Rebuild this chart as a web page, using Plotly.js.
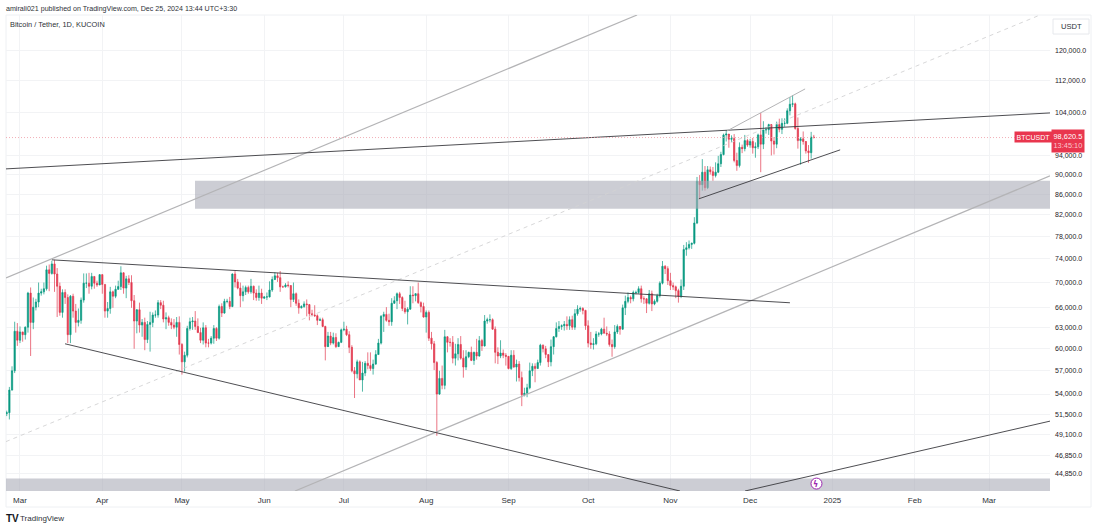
<!DOCTYPE html>
<html><head><meta charset="utf-8">
<script src="https://cdn.plot.ly/plotly-3.0.1.min.js"></script>
<style>html,body{margin:0;padding:0;background:#fff;overflow:hidden}#c{width:1097px;height:529px}</style>
</head><body><div id="c"></div>
<script>
const firstDay = '2024-02-25';
const opens = [51600,51700,54500,57000,62500,
61200,62400,62000,63100,68300,63800,66100,66900,68300,68500,69000,72100,71500,73100,71400,69400,65300,68400,67600,62000,67800,65500,63800,64100,67200,69900,69900,69400,71000,69900,69600,
71300,69700,65500,65900,68500,67800,68900,69350,71600,69100,70600,70000,67100,64000,65700,63400,63800,61300,63500,63800,64900,64900,66800,66400,64300,64500,63800,63400,63100,63800,
60600,58200,59100,62900,63900,64000,63200,62300,61200,63000,60800,60800,61500,62900,61500,66200,65200,67000,67000,66200,71400,70100,69100,67900,68500,69200,68500,69400,68300,67600,68300,
67500,67700,67700,68800,70500,71100,70800,69300,69300,69600,69500,67300,68200,66700,66000,66200,66600,66500,65100,64900,64800,64100,64200,63200,60300,61800,60800,61600,60300,60900,
62700,62800,62000,60200,57000,56600,58200,55800,56700,58000,57700,57300,57900,59200,60800,64700,65000,64100,63900,66700,67100,68200,67600,65900,65400,65800,68000,67900,68200,66800,66200,
64600,65300,61500,60700,58100,54000,56000,55100,61700,60900,60900,58700,59300,60600,58700,57500,58900,59500,58400,59500,59000,61150,60400,64000,64200,64200,62800,59500,59000,59400,59100,
58950,57300,59100,57500,57900,56100,53900,54100,54800,57000,57600,57300,58100,60500,60000,59200,58200,60300,61700,62900,63200,63300,63500,63300,64200,63100,65100,65800,65900,65600,
63300,60800,60600,60700,62100,62100,62800,62200,62100,60600,60300,62400,63200,62800,66000,67000,67600,67400,68400,68400,69000,67400,67400,66700,68200,66600,67000,67900,69900,72700,72300,
70300,69500,69300,68700,67800,69400,75600,75900,76500,76700,80400,88600,87900,90500,87300,91000,90600,89800,90500,92300,94300,98700,98900,97700,97900,93000,91900,95900,95600,97400,
96400,97200,95800,96000,98700,96600,99900,99900,101100,97300,96600,101100,100000,101400,101400,104400,106000,106100,100200,97400,97800,97200,95100,94700,98200];
const highs = [51950,54900,57600,63900,63700,
63200,62400,63200,68500,69200,67600,67400,70000,69000,70000,72800,73000,73650,73800,72400,70000,68900,68900,68100,68000,68200,66600,65900,67600,71500,71500,71600,71600,71000,70300,71400,
71400,69700,66900,69300,68700,69500,70300,72700,71700,71100,71200,71200,68000,65800,66800,64300,64500,64000,65400,65300,65600,67200,67200,67100,65300,64800,64400,64300,64600,64700,
60800,59600,63300,64500,64600,65500,64400,63000,63800,63400,61400,61800,63400,63100,66500,66700,67400,67400,67700,71500,71900,70600,70000,69500,69500,69500,70600,69500,68900,69500,69000,
67800,68400,70200,71000,71700,71600,71900,69500,69900,70200,69600,70000,68400,67300,66400,67000,67300,65700,65700,66400,65000,64500,64500,63300,62400,62400,62300,62200,61000,62900,
63900,63300,62500,60500,57500,58500,58400,58200,58300,59500,59500,58500,59800,61400,64900,65400,66100,65100,67500,67800,68400,68500,67800,67100,66100,69400,69400,68300,70000,67000,66800,
65600,65600,62400,61100,58300,57000,57700,62700,61800,61500,61800,60700,61500,61800,59800,59800,59600,60300,59600,61400,61800,61400,64900,64500,65000,64400,63200,60200,61200,59900,59400,
59000,59800,59800,58500,58300,56900,54800,55300,58100,58000,58000,58500,60700,60600,60400,59200,61300,61800,63800,64000,63500,64000,64700,64700,64800,65800,66400,66200,66100,65700,
64100,62400,61500,62500,62400,63000,64500,63200,62500,61300,63400,63500,63100,66500,67900,68400,67900,68700,68700,69400,69500,67800,67500,68800,68700,67300,68200,70200,73600,72900,72700,
71600,70000,69500,69000,70500,76400,76900,77200,76800,81500,89500,89900,93300,91800,91800,91700,91600,92600,94000,94900,99000,99800,98700,98600,98900,94700,97000,96500,98700,97800,
97800,98000,97000,99000,103900,101900,100500,101300,101200,98200,101800,102500,102600,102600,105000,107800,108300,106400,102800,98200,99500,97300,96400,99400,98700];
const lows = [51300,50900,54450,56700,60400,
60800,61000,61300,62300,59000,62800,65600,66100,67900,68100,68700,68600,71300,68500,64600,64800,64500,66600,60800,60800,64500,62300,63200,63600,66800,69100,68200,68900,69000,69300,69600,
68200,64500,64500,65100,66000,67500,69000,68800,68200,67500,69600,66000,60000,62200,62300,61700,59800,60800,59600,63100,64500,64500,65800,63800,62800,63300,62800,62800,61700,59200,
56500,56900,58800,62600,62700,62700,62900,60800,60600,60200,60200,60600,60700,61100,61300,64600,65100,66700,65800,66100,69200,68900,66100,67000,68000,68200,68200,67200,67100,67100,66600,
67400,67200,67600,68500,70400,70100,68500,69200,69200,69200,66100,66900,66300,65100,65900,66000,64700,64100,64700,64600,63400,64000,63100,58400,60700,60500,60600,60100,60300,60800,
62500,61800,59400,56800,53500,56000,55800,54300,56300,57200,57000,56500,57800,59200,60600,62400,63900,63300,63300,66600,65800,66600,65500,65100,63500,65700,66700,67000,66600,65300,64500,
62300,61100,59900,57100,49000,53900,54600,54600,59500,60300,58000,57700,58400,58500,56100,57100,58700,58300,57800,58500,58900,59700,60300,63600,63800,62700,58000,57900,58700,58700,57700,
57200,57100,57400,55600,55600,52500,53700,53600,54600,56300,55500,57300,57700,59500,58700,57500,57600,59200,61600,62400,62700,62600,62700,62700,62700,62700,64800,65400,65000,62700,
60200,60000,59900,60500,61700,61900,62200,61800,60300,58900,60000,62100,62000,62700,64900,66700,66700,67000,68100,68200,66800,66600,65200,66500,65500,66400,66800,67600,69700,71400,69600,
68800,68800,67500,66800,67500,68800,74500,75600,75700,76500,80200,85100,86700,86700,87000,90000,88700,89400,90300,91600,94100,97200,95800,97100,92600,90800,91500,94600,95000,96000,
95800,94500,93600,95500,90500,95500,99000,98700,94100,94300,95700,99300,98900,100600,101200,103300,105300,99900,95600,92100,96500,94500,92500,93400,97900];
const closes = [51700,54500,57000,62500,61200,
62400,62000,63100,68300,63800,66100,66900,68300,68500,69000,72100,71500,73100,71400,69400,65300,68400,67600,62000,67800,65500,63800,64100,67200,69900,69900,69400,71000,69900,69600,71300,
69700,65500,65900,68500,67800,68900,69350,71600,69100,70600,70000,67100,64000,65700,63400,63800,61300,63500,63800,64900,64900,66800,66400,64300,64500,63800,63400,63100,63800,60600,
58200,59100,62900,63900,64000,63200,62300,61200,63000,60800,60800,61500,62900,61500,66200,65200,67000,67000,66200,71400,70100,69100,67900,68500,69200,68500,69400,68300,67600,68300,67500,
67700,67700,68800,70500,71100,70800,69300,69300,69600,69500,67300,68200,66700,66000,66200,66600,66500,65100,64900,64800,64100,64200,63200,60300,61800,60800,61600,60300,60900,62700,
62800,62000,60200,57000,56600,58200,55800,56700,58000,57700,57300,57900,59200,60800,64700,65000,64100,63900,66700,67100,68200,67600,65900,65400,65800,68000,67900,68200,66800,66200,64600,
65300,61500,60700,58100,54000,56000,55100,61700,60900,60900,58700,59300,60600,58700,57500,58900,59500,58400,59500,59000,61150,60400,64000,64200,64200,62800,59500,59000,59400,59100,58950,
57300,59100,57500,57900,56100,53900,54100,54800,57000,57600,57300,58100,60500,60000,59200,58200,60300,61700,62900,63200,63300,63500,63300,64200,63100,65100,65800,65900,65600,63300,
60800,60600,60700,62100,62100,62800,62200,62100,60600,60300,62400,63200,62800,66000,67000,67600,67400,68400,68400,69000,67400,67400,66700,68200,66600,67000,67900,69900,72700,72300,70300,
69500,69300,68700,67800,69400,75600,75900,76500,76700,80400,88600,87900,90500,87300,91000,90600,89800,90500,92300,94300,98700,98900,97700,97900,93000,91900,95900,95600,97400,96400,
97200,95800,96000,98700,96600,99900,99900,101100,97300,96600,101100,100000,101400,101400,104400,106000,106100,100200,97400,97800,97200,95100,94700,98200,98100];

const xStart = '2024-02-24 17:30', xEnd = '2025-03-23 23:00';
const priceTop = 130480, priceBottom = 43090;
const lastPrice = 98100;

const priceTicks = [120000,112000,104000,94000,90000,86000,82000,78000,74000,70000,66000,63000,60000,57000,54000,51500,49100,46850,44850];
const priceLabels = ['120,000.0','112,000.0','104,000.0','94,000.0','90,000.0','86,000.0','82,000.0','78,000.0','74,000.0','70,000.0','66,000.0','63,000.0','60,000.0','57,000.0','54,000.0','51,500.0','49,100.0','46,850.0','44,850.0'];
const dateTicks = ['2024-03-01','2024-04-01','2024-05-01','2024-06-01','2024-07-01','2024-08-01','2024-09-01','2024-10-01','2024-11-01','2024-12-01','2025-01-01','2025-02-01','2025-03-01'];
const dateLabels = ['Mar','Apr','May','Jun','Jul','Aug','Sep','Oct','Nov','Dec','2025','Feb','Mar'];

const upperChannel = {x:[xStart,'2024-10-19 10:00'], y:[70770,priceTop]};
const midChannel   = {x:[xStart,'2025-03-20 05:00'], y:[48340,priceTop]};
const lowerChannel = {x:['2024-06-12 14:00',xEnd], y:[priceBottom,89720]};
const longResist   = {x:[xStart,xEnd], y:[91200,103880]};
const wedgeTop     = {x:['2024-03-13 01:00','2024-12-16 00:00'], y:[73800,66780]};
const wedgeBottom  = {x:['2024-03-17 23:00','2024-11-04 14:00'], y:[60700,priceBottom]};
const lowRight     = {x:['2024-11-29 02:00',xEnd], y:[priceBottom,50700]};
const risingLow    = {x:['2024-11-11 17:00','2025-01-03 22:00'], y:[85060,95330]};
const risingHigh   = {x:['2024-11-22 07:00','2024-12-21 17:00'], y:[99620,109850]};
const bandUpper    = {x0:'2024-05-05 22:00', x1:xEnd, y0:83100, y1:88690};
const bandLower    = {x0:xStart, x1:xEnd, y0:priceBottom, y1:44350};

const dates = closes.map((_, i) => {
  const d = new Date(firstDay + 'T00:00:00Z');
  d.setUTCDate(d.getUTCDate() + i);
  return d.toISOString().slice(0, 10);
});

const band = b => ({type:'scatter',mode:'lines',x:[b.x0,b.x1,b.x1,b.x0,b.x0],y:[b.y0,b.y0,b.y1,b.y1,b.y0],
  fill:'toself',fillcolor:'rgba(170,172,184,0.6)',line:{width:0},hoverinfo:'skip',showlegend:false});
const seg = (s,color,width,dash) => ({type:'scatter',mode:'lines',x:s.x,y:s.y,
  line:{color,width,dash:dash||'solid'},hoverinfo:'skip',showlegend:false});

const traces = [
  band(bandUpper), band(bandLower),
  {type:'candlestick',x:dates,open:opens,high:highs,low:lows,close:closes,whiskerwidth:0,
   increasing:{line:{color:'#089981',width:0.7},fillcolor:'#089981'},
   decreasing:{line:{color:'#e2394f',width:0.7},fillcolor:'#e2394f'},
   hoverinfo:'skip',showlegend:false},
  seg(upperChannel,'#b4b4b6',1.2),
  seg(midChannel,'#d2d2d4',0.9,'4px,4px'),
  seg(lowerChannel,'#b4b4b6',1.2),
  seg(longResist,'#3a3a3e',0.9),
  seg(wedgeTop,'#3a3a3e',0.9),
  seg(wedgeBottom,'#3a3a3e',0.9),
  seg(lowRight,'#3a3a3e',0.9),
  seg(risingLow,'#3a3a3e',0.9),
  seg(risingHigh,'#b4b4b6',1),
  {type:'scatter',mode:'lines',x:[xStart,xEnd],y:[lastPrice,lastPrice],line:{color:'#ee9aa6',width:0.8,dash:'1px,2px'},hoverinfo:'skip',showlegend:false},
  {type:'scatter',mode:'markers',x:['2024-12-26'],y:[43840],cliponaxis:false,marker:{size:11,color:'#ffffff',line:{color:'#9c27b0',width:1}},hoverinfo:'skip',showlegend:false}
];

const txtFont = 'Liberation Sans, Arial, sans-serif';
const px = (x,y,text,opt) => Object.assign({xref:'paper',yref:'paper',x:(x-6)/1044,y:(491-y)/476,text,showarrow:false,
  xanchor:'left',yanchor:'middle',font:{family:txtFont,size:8,color:'#2e3238'}},opt||{});

const layout = {
  width:1097,height:529,margin:{l:6,r:47,t:15,b:38,pad:0},paper_bgcolor:'#ffffff',plot_bgcolor:'#ffffff',
  font:{family:txtFont,size:8,color:'#2e3238'},showlegend:false,
  xaxis:{type:'date',range:[xStart,xEnd],tickmode:'array',tickvals:dateTicks,ticktext:dateLabels,ticklen:0,ticklabelstandoff:3,
    rangeslider:{visible:false},showline:false,zeroline:false,gridcolor:'#f2f3f5',gridwidth:1,
    tickfont:{family:txtFont,size:8,color:'#2e3238'},fixedrange:true},
  yaxis:{type:'log',side:'right',range:[Math.log10(priceBottom),Math.log10(priceTop)],tickmode:'array',tickvals:priceTicks,ticktext:priceLabels,ticklen:0,ticks:'',ticklabelstandoff:4,
    showline:false,zeroline:false,gridcolor:'#f2f3f5',gridwidth:1,
    tickfont:{family:txtFont,size:7,color:'#1f2228'},fixedrange:true},
  shapes:[
    {type:'rect',xref:'paper',yref:'paper',x0:0,x1:(1091-6)/1044,y0:(491-507)/476,y1:1,line:{color:'#eef0f3',width:1},fillcolor:'rgba(0,0,0,0)',layer:'below'},
    {type:'rect',xref:'paper',yref:'paper',x0:(1053-6)/1044,x1:(1089-6)/1044,y0:(491-34)/476,y1:(491-19)/476,line:{color:'#e6e8ec',width:1},fillcolor:'#ffffff',layer:'above'}
  ],
  annotations:[
    px(4,9,'amirali021 published on TradingView.com, Dec 25, 2024 13:44 UTC+3:30',{font:{family:txtFont,size:7.1,color:'#2e3238'}}),
    px(8,24,'Bitcoin / Tether, 1D, KUCOIN',{font:{family:txtFont,size:7.4,color:'#2e3238'}}),
    px(1071,26.5,'USDT',{xanchor:'center',font:{family:txtFont,size:7.6,color:'#2e3238'}}),
    px(1033,137,'BTCUSDT',{xanchor:'center',bgcolor:'#e9364e',borderpad:1.5,font:{family:txtFont,size:7,color:'#ffffff'}}),
    px(1068,141,'98,620.5<br><span style="color:#f9c6cd">13:45:10</span>',{xanchor:'center',bgcolor:'#e9364e',borderpad:1.5,align:'center',font:{family:txtFont,size:7.4,color:'#ffffff'}}),
    px(815.5,484,'<b>ϟ</b>',{xanchor:'center',font:{family:'DejaVu Sans',size:8,color:'#9c27b0'}}),
    px(4,518.5,'<b>TV</b>',{font:{family:txtFont,size:10,color:'#131722'}}),
    px(18,518.5,'TradingView',{font:{family:txtFont,size:8,color:'#2e3238'}})
  ]
};
Plotly.newPlot('c',traces,layout,{displayModeBar:false,staticPlot:true});
</script></body></html>
